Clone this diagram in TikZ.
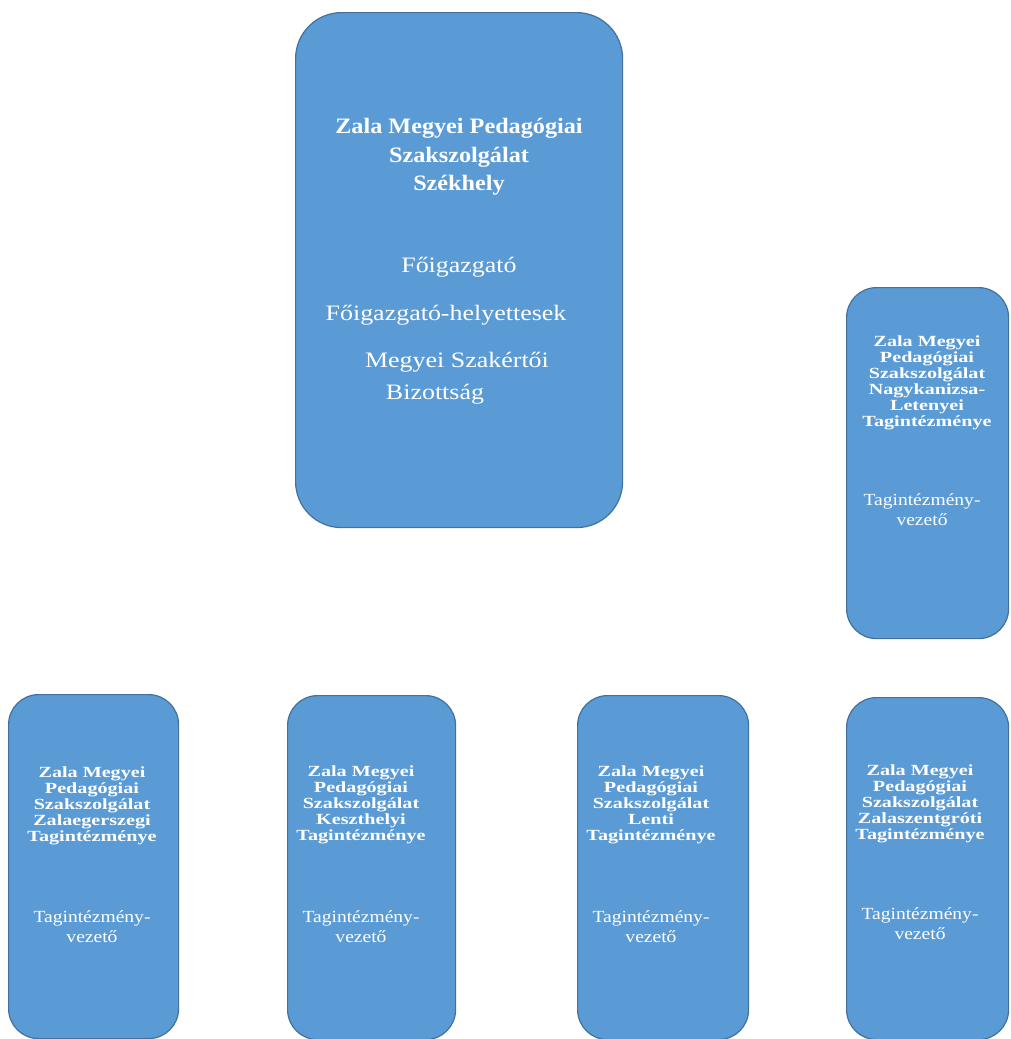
\documentclass[tikz,border=0pt]{standalone}
\usepackage{fontspec}
\setmainfont{Liberation Serif}
\newfontfamily\maintitlefont[FakeStretch=1.10]{Liberation Serif}
\newfontfamily\mainbodyfont[FakeStretch=1.18]{Liberation Serif}
\newfontfamily\smalltitlefont[FakeStretch=1.3]{Liberation Serif}
\newfontfamily\smallbodyfont[FakeStretch=1.15]{Liberation Serif}
\definecolor{boxfill}{HTML}{5B9BD5}
\definecolor{boxborder}{HTML}{41719C}
\begin{document}
\begin{tikzpicture}[x=1pt,y=-1pt,
  box/.style={draw=boxborder, line width=1.2pt, fill=boxfill, rounded corners=30pt,
    anchor=north west, inner sep=0pt},
  bigbox/.style={box, rounded corners=46pt},
  mtitle/.style={text=white, align=center, inner sep=0pt,
    font=\maintitlefont\bfseries\fontsize{22}{28.5}\selectfont},
  mbody/.style={text=white, inner sep=0pt, anchor=base,
    font=\mainbodyfont\fontsize{22}{27}\selectfont},
  stitle/.style={text=white, align=center, inner sep=0pt,
    font=\smalltitlefont\bfseries\fontsize{15.5}{16}\selectfont},
  sbody/.style={text=white, align=center, inner sep=0pt,
    font=\smallbodyfont\fontsize{17}{20}\selectfont}]
\clip (0,0) rectangle (1010,1039);
\fill[white] (0,0) rectangle (1010,1039);

% main box
\node (main) [bigbox, minimum width=327pt, minimum height=515pt] at (295,12) {};
\node (mainT) [mtitle] at (459,157) {Zala Megyei Pedagógiai\\Szakszolgálat\\Székhely};
\node (mf1) [mbody] at (459,272) {Főigazgató};
\node (mf2) [mbody] at (446,320) {Főigazgató-helyettesek};
\node (mf3) [mbody] at (457,367) {Megyei Szakértői};
\node (mf4) [mbody] at (435,399) {Bizottság};

% right upper box
\node (nk) [box, minimum width=162pt, minimum height=351pt] at (846,287) {};
\node (nkT) [stitle] at (927,383) {Zala Megyei\\Pedagógiai\\Szakszolgálat\\Nagykanizsa-\\Letenyei\\Tagintézménye};
\node (nkB) [sbody] at (922,510) {Tagintézmény-\\vezető};

% bottom row
\node (ze) [box, minimum width=170pt, minimum height=344pt] at (8,694) {};
\node (zeT) [stitle] at (92,806) {Zala Megyei\\Pedagógiai\\Szakszolgálat\\Zalaegerszegi\\Tagintézménye};
\node (zeB) [sbody] at (92,927) {Tagintézmény-\\vezető};

\node (ke) [box, minimum width=168pt, minimum height=344pt] at (287,695) {};
\node (keT) [stitle] at (361,805) {Zala Megyei\\Pedagógiai\\Szakszolgálat\\Keszthelyi\\Tagintézménye};
\node (keB) [sbody] at (361,927) {Tagintézmény-\\vezető};

\node (le) [box, minimum width=171pt, minimum height=344pt] at (577,695) {};
\node (leT) [stitle] at (651,805) {Zala Megyei\\Pedagógiai\\Szakszolgálat\\Lenti\\Tagintézménye};
\node (leB) [sbody] at (651,927) {Tagintézmény-\\vezető};

\node (zs) [box, minimum width=162pt, minimum height=342pt] at (846,697) {};
\node (zsT) [stitle] at (920,804) {Zala Megyei\\Pedagógiai\\Szakszolgálat\\Zalaszentgróti\\Tagintézménye};
\node (zsB) [sbody] at (920,924) {Tagintézmény-\\vezető};
\end{tikzpicture}
\end{document}
